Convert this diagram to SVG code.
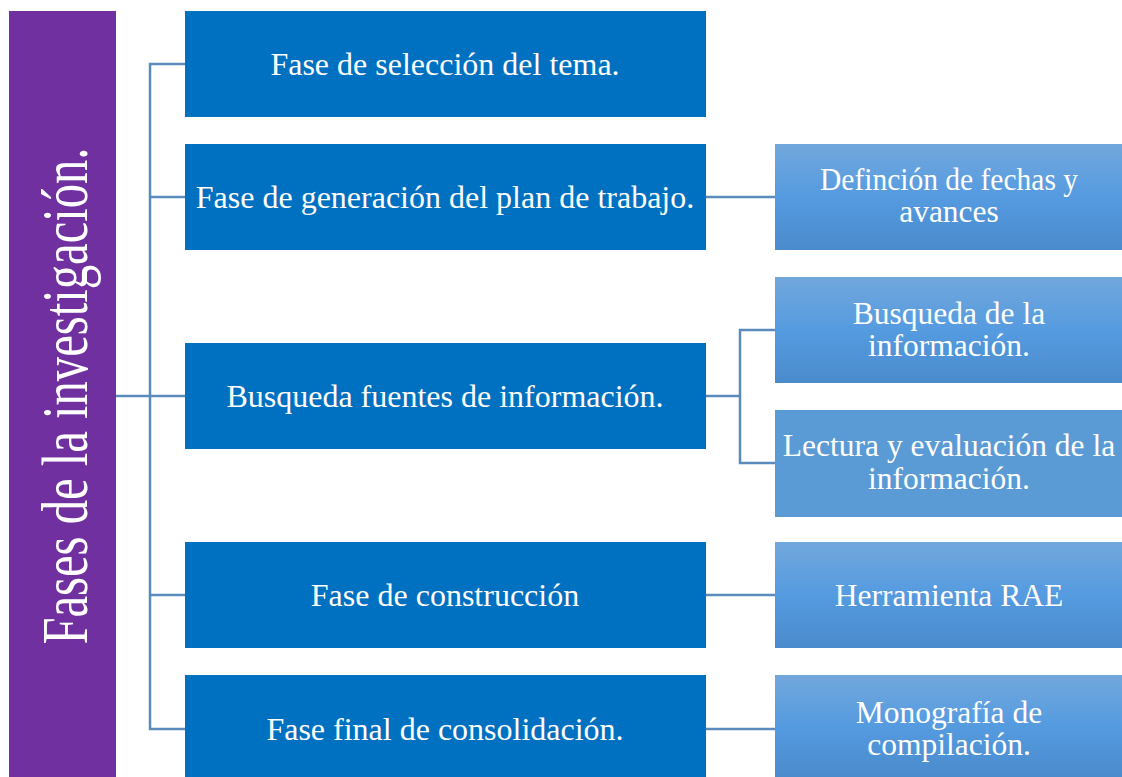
<svg xmlns="http://www.w3.org/2000/svg" width="1122" height="777" viewBox="0 0 1122 777">
<defs>
<linearGradient id="g" x1="0" y1="0" x2="0" y2="1">
<stop offset="0" stop-color="#72a7dc"/>
<stop offset="0.5" stop-color="#559be0"/>
<stop offset="1" stop-color="#4a8bcc"/>
</linearGradient>
<style>
.t{font-family:"Liberation Serif","Times New Roman",serif;fill:#fff;text-anchor:middle}
.mt{font-size:32px}
.st{font-size:31.5px}
.m{fill:#0070c0}
.s{fill:url(#g)}
.c{fill:none;stroke:#5b8bbd;stroke-width:2.5}
</style>
</defs>
<rect width="1122" height="777" fill="#fff"/>
<g id="connectors">
<path class="c" d="M116 396H150M185 64H150V729H185M150 197H185M150 396H185M150 595H185"/>
<path class="c" d="M706 197H775M706 396H740M775 330H740V463H775M706 595H775M706 729H775"/>
</g>
<g id="root">
<rect x="9" y="11" width="107" height="766" fill="#7030a0"/>
<text class="t" transform="translate(87 396) rotate(-90) scale(0.737 1)" font-size="66">Fases de la investigación.</text>
</g>
<g id="n1"><rect class="m" x="185" y="11" width="521" height="106"/><text class="t mt" x="445" y="75">Fase de selección del tema.</text></g>
<g id="n2"><rect class="m" x="185" y="144" width="521" height="106"/><text class="t mt" x="445" y="208">Fase de generación del plan de trabajo.</text></g>
<g id="n3"><rect class="m" x="185" y="343" width="521" height="106"/><text class="t mt" x="445" y="407">Busqueda fuentes de información.</text></g>
<g id="n4"><rect class="m" x="185" y="542" width="521" height="106"/><text class="t mt" x="445" y="606">Fase de construcción</text></g>
<g id="n5"><rect class="m" x="185" y="675" width="521" height="102"/><text class="t mt" x="445" y="740">Fase final de consolidación.</text></g>
<g id="r1"><rect class="s" x="775" y="144" width="347" height="106"/><text class="t st" x="949" y="190" textLength="258" lengthAdjust="spacingAndGlyphs">Definción de fechas y</text><text class="t st" x="949" y="222">avances</text></g>
<g id="r2"><rect class="s" x="775" y="277" width="347" height="106"/><text class="t st" x="949" y="324">Busqueda de la</text><text class="t st" x="949" y="356">información.</text></g>
<g id="r3"><rect x="775" y="410" width="347" height="107" fill="#5b9bd5"/><text class="t st" x="949" y="456">Lectura y evaluación de la</text><text class="t st" x="949" y="489">información.</text></g>
<g id="r4"><rect class="s" x="775" y="542" width="347" height="106"/><text class="t st" x="949" y="606">Herramienta RAE</text></g>
<g id="r5"><rect class="s" x="775" y="675" width="347" height="102"/><text class="t st" x="949" y="723">Monografía de</text><text class="t st" x="949" y="755">compilación.</text></g>
</svg>
